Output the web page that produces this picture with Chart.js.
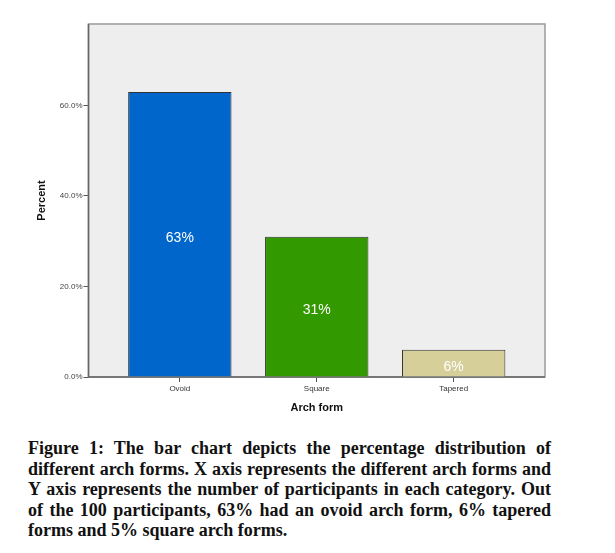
<!DOCTYPE html>
<html>
<head>
<meta charset="utf-8">
<script src="https://cdn.jsdelivr.net/npm/chart.js@4/dist/chart.umd.min.js"></script>
<style>
  body { margin: 0; background: #fff; width: 615px; height: 553px; overflow: hidden; position: relative; }
  #wrap { position: absolute; left: 0; top: 0; width: 615px; height: 425px; }
  #caption { position: absolute; left: 28px; top: 438px; width: 523px;
    font-family: "Liberation Serif", serif; font-weight: bold; font-size: 18px; line-height: 20.6px; color: #111; }
  #caption div { text-align: justify; text-align-last: justify; white-space: nowrap; }
  #caption div.last { text-align-last: left; }
</style>
</head>
<body>
<div id="wrap"><canvas id="chart"></canvas></div>
<div id="caption">
  <div>Figure 1: The bar chart depicts the percentage distribution of</div>
  <div>different arch forms. X axis represents the different arch forms and</div>
  <div>Y axis represents the number of participants in each category. Out</div>
  <div>of the 100 participants, 63% had an ovoid arch form, 6% tapered</div>
  <div class="last">forms and 5% square arch forms.</div>
</div>
<script>
const categories = ['Ovoid', 'Square', 'Tapered']
const percents = [63, 31, 6]
const barColors = ['#0066cc', '#339900', '#d6cf99']
const yTicks = [0, 20, 40, 60]

const ctx = document.getElementById('chart').getContext('2d')

// grey plot background with a frame, like SPSS output
const frame = {
  id: 'frame',
  beforeDatasetsDraw(chart) {
    const a = chart.chartArea
    const c = chart.ctx
    c.save()
    c.fillStyle = '#eeeeee'
    c.fillRect(a.left, a.top, a.right - a.left, a.bottom - a.top)
    c.strokeStyle = '#9a9a9a'
    c.lineWidth = 1.5
    c.strokeRect(a.left, a.top, a.right - a.left, a.bottom - a.top)
    c.strokeStyle = '#666'
    c.beginPath()
    c.moveTo(a.left, a.top); c.lineTo(a.left, a.bottom); c.lineTo(a.right, a.bottom)
    c.stroke()
    c.restore()
  }
}

// value labels in the middle of each bar
const barLabels = {
  id: 'barLabels',
  afterDatasetsDraw(chart) {
    const c = chart.ctx
    const meta = chart.getDatasetMeta(0)
    c.save()
    c.fillStyle = '#fff'
    c.font = '14px "Liberation Sans", Arial, sans-serif'
    c.textAlign = 'center'
    c.textBaseline = 'middle'
    meta.data.forEach((bar, i) => {
      c.fillText(percents[i] + '%', bar.x, (bar.y + bar.base) / 2 + 4)
    })
    c.restore()
  }
}

new Chart(ctx, {
  type: 'bar',
  data: {
    datasets: [{
      data: percents.map((v, i) => ({ x: i, y: v })),
      backgroundColor: barColors,
      borderColor: '#333',
      borderWidth: 1,
      barPercentage: 0.755,
      categoryPercentage: 1
    }]
  },
  options: {
    responsive: true,
    maintainAspectRatio: false,
    animation: false,
    layout: { padding: { left: 0, top: 24, right: 70, bottom: 0 } },
    plugins: { legend: { display: false }, tooltip: { enabled: false } },
    scales: {
      x: {
        type: 'linear',
        offset: false,
        min: -0.667,
        max: 2.667,
        afterBuildTicks: (scale) => { scale.ticks = categories.map((_, i) => ({ value: i })) },
        afterFit: (scale) => { scale.height = 48 },
        grid: { offset: false, drawOnChartArea: false, drawTicks: true, tickLength: 5, color: '#555' },
        border: { display: false },
        ticks: {
          color: '#333',
          padding: 2,
          font: { size: 8, family: '"Liberation Sans", Arial, sans-serif' },
          callback: (v) => categories[v]
        },
        title: {
          display: true,
          text: 'Arch form',
          color: '#111',
          padding: { top: 0, bottom: 10 },
          font: { size: 11, weight: 'bold', family: '"Liberation Sans", Arial, sans-serif' }
        }
      },
      y: {
        min: 0,
        max: 78,
        afterBuildTicks: (scale) => { scale.ticks = yTicks.map(v => ({ value: v })) },
        afterFit: (scale) => { scale.width = 88.5 },
        grid: { drawOnChartArea: false, drawTicks: true, tickLength: 5, color: '#555' },
        border: { display: false },
        ticks: {
          color: '#444',
          padding: 1,
          font: { size: 8, family: '"Liberation Sans", Arial, sans-serif' },
          callback: (v) => v.toFixed(1) + '%'
        },
        title: {
          display: true,
          text: 'Percent',
          color: '#111',
          padding: { top: 35, bottom: 0 },
          font: { size: 11, weight: 'bold', family: '"Liberation Sans", Arial, sans-serif' }
        }
      }
    }
  },
  plugins: [frame, barLabels]
})
</script>
</body>
</html>
